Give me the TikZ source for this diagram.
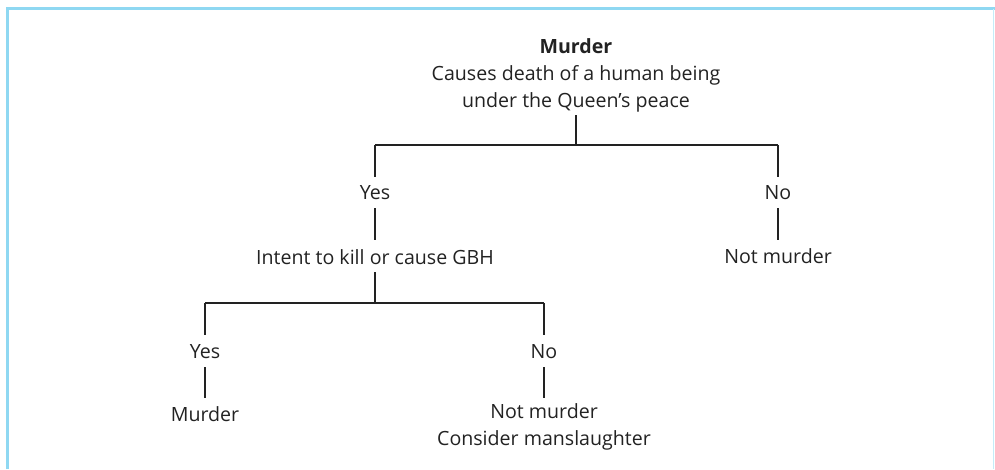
\documentclass[tikz,border=0pt]{standalone}
\usepackage{fontspec}
\setmainfont{Open Sans}
\definecolor{framec}{HTML}{8FD8F2}
\definecolor{framer}{HTML}{C4ECF8}
\definecolor{ink}{HTML}{222222}
\begin{document}
\begin{tikzpicture}[x=1pt,y=-1pt,
  lbl/.style={inner sep=0pt,text=ink,font=\fontsize{19.6}{27}\selectfont,align=center},
  conn/.style={draw=ink,line width=1.2pt}]
\useasboundingbox (0,0) rectangle (995,469);
\draw[framec,line width=3pt] (7.5,469) -- (7.5,8.5) -- (995,8.5);
\draw[framer,line width=1.5pt] (993.5,8.5) -- (993.5,469);
% nodes
\node[lbl] (root) at (576,75) {\textbf{Murder}\\Causes death of a human being\\under the Queen's peace};
\coordinate (rootb) at (576,115);
\coordinate (j1) at (576,145);
\node[lbl] (yes1) at (375,193) {Yes};
\node[lbl] (no1) at (778,193) {No};
\node[lbl] (intent) at (375,257) {Intent to kill or cause GBH};
\node[lbl] (nm1) at (778,256) {Not murder};
\coordinate (j2) at (375,303);
\node[lbl] (yes2) at (205,352) {Yes};
\node[lbl] (no2) at (544,352) {No};
\node[lbl] (mur) at (205,414) {Murder};
\node[lbl] (nm2) at (544,427) {Not murder\\Consider manslaughter};
% connectors
\draw[conn] (rootb) -- (j1);
\draw[conn] (yes1 |- j1) -- (no1 |- j1);
\draw[conn] (yes1 |- j1) -- ([yshift=16pt]yes1.center);
\draw[conn] (no1 |- j1) -- ([yshift=16pt]no1.center);
\draw[conn] ([yshift=-15pt]yes1.center) -- ([yshift=17pt]intent.center);
\draw[conn] ([yshift=-15pt]no1.center) -- ([yshift=16pt]nm1.center);
\draw[conn] ([yshift=-15pt]intent.center) -- (j2);
\draw[conn] (yes2 |- j2) -- (no2 |- j2);
\draw[conn] (yes2 |- j2) -- ([yshift=17pt]yes2.center);
\draw[conn] (no2 |- j2) -- ([yshift=17pt]no2.center);
\draw[conn] ([yshift=-15pt]yes2.center) -- ([yshift=16pt]mur.center);
\draw[conn] ([yshift=-15pt]no2.center) -- ([yshift=29pt]nm2.center);
\end{tikzpicture}
\end{document}
